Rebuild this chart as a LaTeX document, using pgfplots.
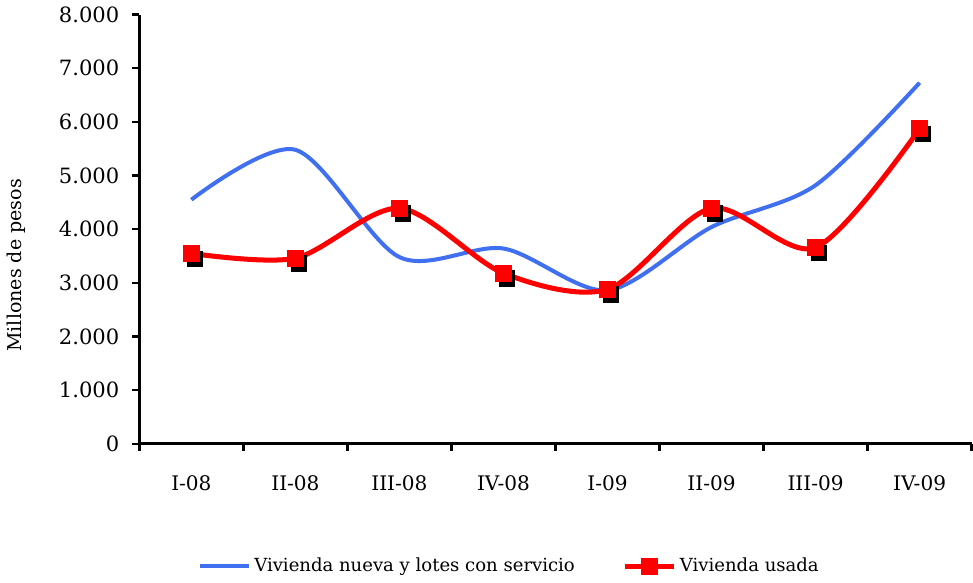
\documentclass[border=0pt]{standalone}
\usepackage{fontspec}
\setmainfont{DejaVu Serif}
\usepackage{pgfplots}
\pgfplotsset{compat=1.18}
\definecolor{azul}{RGB}{64,112,240}
\definecolor{rojo}{RGB}{255,0,0}

\begin{document}
\begin{tikzpicture}
\begin{axis}[
    scale only axis,
    width=415pt, height=214pt,
    xmin=-0.5, xmax=7.5,
    ymin=0, ymax=8000,
    axis x line=bottom, axis y line=left,
    axis line style={-, line width=1.4pt},
    xtick={-0.5,0.5,...,7.5},
    x tick label as interval,
    xticklabels={I-08,II-08,III-08,IV-08,I-09,II-09,III-09,IV-09},
    ytick={0,1000,...,8000},
    tick align=outside,
    major tick length=3.5pt,
    tick style={line width=1.2pt, black},
    /pgf/number format/.cd, 1000 sep={.}, assume math mode=true,
    /pgfplots/.cd,
    yticklabel style={font=\fontsize{10.5}{12}\selectfont, xshift=-3pt},
    xticklabel style={font=\fontsize{10}{12}\selectfont, yshift=-9pt},
    ylabel={Millones de pesos},
    ylabel style={font=\fontsize{9.5}{11}\selectfont, yshift=10pt, xshift=-18pt},
    legend columns=2,
    legend style={draw=none, at={(axis description cs:0.446,-0.285)}, anchor=center,
        font=\fontsize{9}{11}\selectfont,
        /tikz/every even column/.append style={column sep=22pt}},
    legend image code/.code={\draw[mark repeat=2,mark phase=2,#1]
        plot coordinates {(0cm,0cm) (0.42cm,0cm) (0.84cm,0cm)};},
]
\addplot[color=azul, line width=2pt, smooth, no markers] coordinates {
    (0,4550) (1,5480) (2,3480) (3,3640) (4,2860) (5,4040) (6,4820) (7,6730)
};
\addlegendentry{Vivienda nueva y lotes con servicio}
% sombra de los marcadores
\addplot[only marks, mark=square*, mark size=3.8pt, black,
    mark options={xshift=1.8pt, yshift=-2.6pt}, forget plot] coordinates {
    (0,3550) (1,3460) (2,4390) (3,3180) (4,2880) (5,4390) (6,3660) (7,5870)
};
\addplot[color=rojo, line width=2.5pt, smooth, mark=square*, mark size=4pt,
    mark options={solid, fill=rojo, line width=0.5pt}] coordinates {
    (0,3550) (1,3460) (2,4390) (3,3180) (4,2880) (5,4390) (6,3660) (7,5870)
};
\addlegendentry{Vivienda usada}
\end{axis}
\end{tikzpicture}
\end{document}
